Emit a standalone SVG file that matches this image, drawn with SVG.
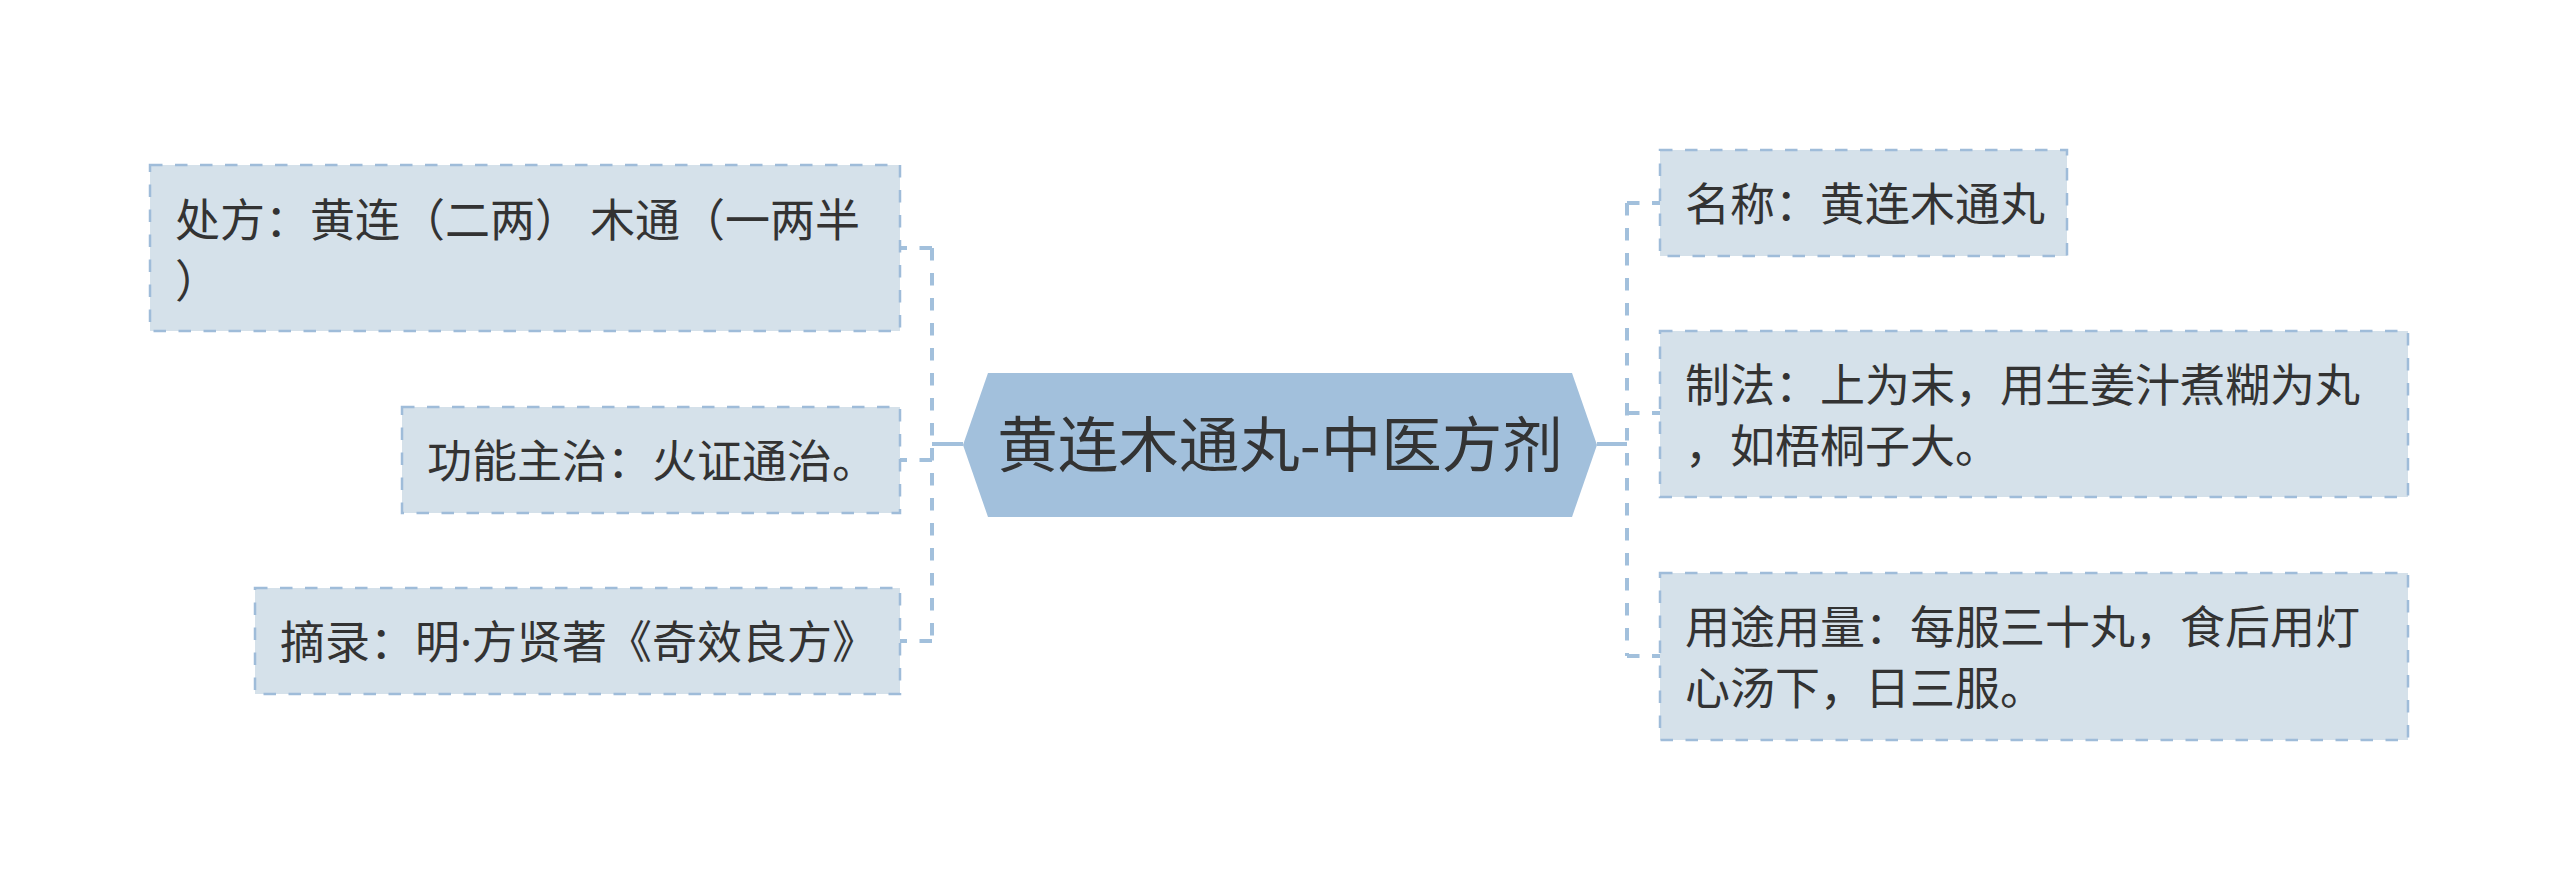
<svg xmlns="http://www.w3.org/2000/svg" width="2560" height="890" viewBox="0 0 2560 890">
<style>
.box{fill:#d5e1ea;stroke:#9fbcd9;stroke-width:2.5;stroke-dasharray:12.5 12.5}
.t{font-family:"Noto Sans CJK SC","Noto Sans",sans-serif;font-size:45px;fill:#333333}
.ct{font-family:"Noto Sans CJK SC","Noto Sans",sans-serif;font-size:60.5px;fill:#333333}
.dot{font-family:"Noto Sans","Liberation Sans",sans-serif}
.solid{fill:none;stroke:#a2c0dc;stroke-width:4}
.dash{fill:none;stroke:#a2c0dc;stroke-width:4;stroke-dasharray:12.5 12.5}
</style>
<rect width="2560" height="890" fill="#ffffff"/>
<g id="connectors">
<path class="solid" d="M963 444 H932"/>
<path class="dash" d="M932 248 V641"/>
<path class="dash" d="M932 248 H900"/>
<path class="dash" d="M932 460 H900"/>
<path class="dash" d="M932 641 H900"/>
<path class="solid" d="M1597 444 H1627"/>
<path class="dash" d="M1627 203 V656"/>
<path class="dash" d="M1627 203 H1660"/>
<path class="dash" d="M1627 413 H1660"/>
<path class="dash" d="M1627 656 H1660"/>
</g>
<g id="center">
<polygon points="963,445 988,373 1572,373 1597,445 1572,517 988,517" fill="#a2c0dc"/>
<text class="ct" x="1280" y="467" text-anchor="middle">黄连木通丸-中医方剂</text>
</g>
<g id="node-chufang">
<rect class="box" x="150" y="165" width="750" height="166"/>
<text class="t" x="175" y="237">处方：黄连（二两） 木通（一两半</text>
<text class="t" x="175" y="298">）</text>
</g>
<g id="node-gongneng">
<rect class="box" x="402" y="407" width="498" height="106"/>
<text class="t" x="427" y="478">功能主治：火证通治。</text>
</g>
<g id="node-zhailu">
<rect class="box" x="255" y="588" width="645" height="106"/>
<text class="t" x="280" y="659">摘录：明<tspan class="dot">·</tspan>方贤著《奇效良方》</text>
</g>
<g id="node-mingcheng">
<rect class="box" x="1660" y="150" width="407" height="106"/>
<text class="t" x="1685" y="221">名称：黄连木通丸</text>
</g>
<g id="node-zhifa">
<rect class="box" x="1660" y="331" width="748" height="166"/>
<text class="t" x="1685" y="402">制法：上为末，用生姜汁煮糊为丸</text>
<text class="t" x="1685" y="463">，如梧桐子大。</text>
</g>
<g id="node-yongtu">
<rect class="box" x="1660" y="573" width="748" height="167"/>
<text class="t" x="1685" y="644">用途用量：每服三十丸，食后用灯</text>
<text class="t" x="1685" y="705">心汤下，日三服。</text>
</g>
</svg>
